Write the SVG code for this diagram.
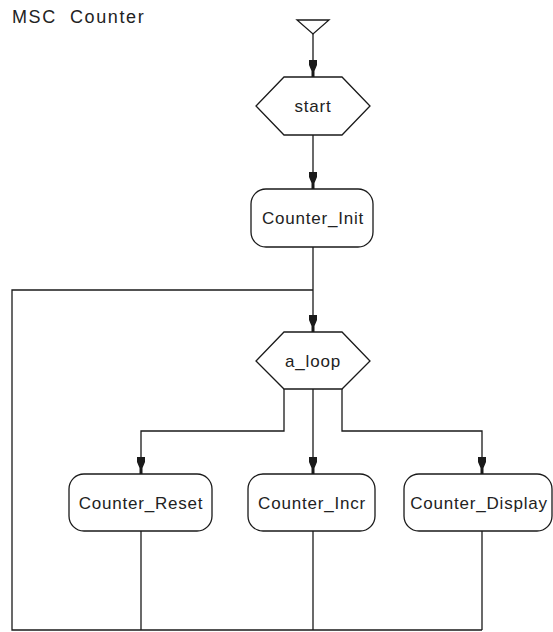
<svg xmlns="http://www.w3.org/2000/svg" width="553" height="632" viewBox="0 0 553 632">
  <style>
    .ln { fill: none; stroke: #1a1a1a; stroke-width: 1.3; }
    .shape { fill: #ffffff; stroke: #1a1a1a; stroke-width: 1.3; }
    .lbl { font-family: "Liberation Sans", Arial, sans-serif; font-size: 17px; letter-spacing: 0.8px; fill: #222222; text-anchor: middle; dominant-baseline: central; }
    .title { font-family: "Liberation Sans", Arial, sans-serif; font-size: 18px; letter-spacing: 1.6px; fill: #222222; }
  </style>
  <defs>
    <!-- filled arrowhead, tip at the origin pointing down -->
    <path id="ah" d="M-4,-17 L4,-17 L4,-12 L1.5,-6 L1.5,0 L-1.5,0 L-1.5,-6 L-4,-12 Z" fill="#1a1a1a"/>
  </defs>

  <text class="title" x="12" y="23" xml:space="preserve">MSC  Counter</text>

  <g id="connectors">
    <path class="ln" d="M313,34 V77"/>
    <path class="ln" d="M313,135 V189"/>
    <path class="ln" d="M313,247 V332"/>
    <path class="ln" d="M313,290 H12 V630 H482"/>
    <path class="ln" d="M284,389 V431 H141 V474"/>
    <path class="ln" d="M313,389 V474"/>
    <path class="ln" d="M342,389 V431 H482 V474"/>
    <path class="ln" d="M141,531 V630"/>
    <path class="ln" d="M313,531 V630"/>
    <path class="ln" d="M482,531 V630"/>
    <use href="#ah" x="313" y="77"/>
    <use href="#ah" x="313" y="189"/>
    <use href="#ah" x="313" y="332"/>
    <use href="#ah" x="141" y="474"/>
    <use href="#ah" x="313" y="474"/>
    <use href="#ah" x="482" y="474"/>
  </g>

  <g id="entry">
    <polygon class="shape" points="297,20 329,20 313,34"/>
  </g>

  <g id="start">
    <polygon class="shape" points="284,77 342,77 370,106 342,135 284,135 256,106"/>
    <text class="lbl" x="313" y="106">start</text>
  </g>

  <g id="counter_init">
    <rect class="shape" x="251" y="189" width="122" height="58" rx="15"/>
    <text class="lbl" x="313" y="218">Counter_Init</text>
  </g>

  <g id="a_loop">
    <polygon class="shape" points="284,332 342,332 370,361 342,389 284,389 256,361"/>
    <text class="lbl" x="313" y="361">a_loop</text>
  </g>

  <g id="counter_reset">
    <rect class="shape" x="69" y="474" width="143" height="57" rx="15"/>
    <text class="lbl" x="141" y="503">Counter_Reset</text>
  </g>

  <g id="counter_incr">
    <rect class="shape" x="248" y="474" width="127" height="57" rx="15"/>
    <text class="lbl" x="312" y="503">Counter_Incr</text>
  </g>

  <g id="counter_display">
    <rect class="shape" x="404" y="474" width="148" height="57" rx="15"/>
    <text class="lbl" x="479" y="503">Counter_Display</text>
  </g>
</svg>
